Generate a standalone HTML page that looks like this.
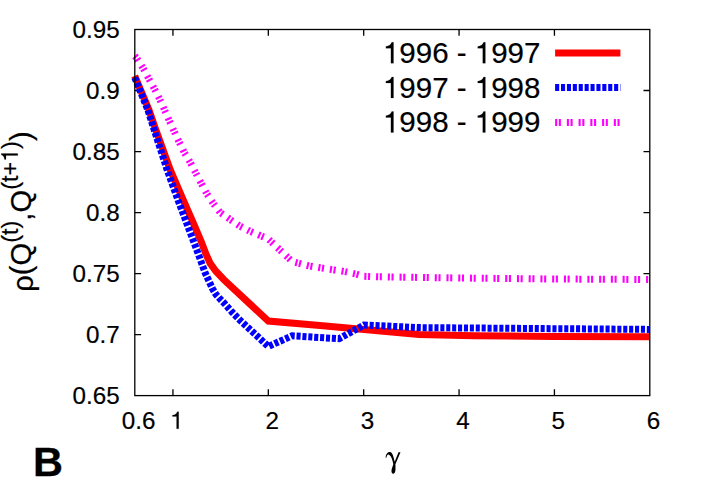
<!DOCTYPE html>
<html><head><meta charset="utf-8"><title>B</title>
<style>
html,body{margin:0;padding:0;background:#fff;}
body{width:706px;height:494px;overflow:hidden;font-family:"Liberation Sans",sans-serif;}
svg{display:block;}
text{font-family:"Liberation Sans",sans-serif;fill:#000;font-kerning:none;white-space:pre;}
.t text{stroke:#000;stroke-width:0.2px;}
.t path{fill:#000;stroke:#000;stroke-width:6;}
</style></head><body>
<svg width="706" height="494" viewBox="0 0 706 494">
<rect width="706" height="494" fill="#fff"/>
<g fill="none" stroke="#000" stroke-width="1.3">
<path d="M172.95 395.60V389.30M172.95 29.50V35.80"/>
<path d="M268.32 395.60V389.30M268.32 29.50V35.80"/>
<path d="M363.69 395.60V389.30M363.69 29.50V35.80"/>
<path d="M459.06 395.60V389.30M459.06 29.50V35.80"/>
<path d="M554.43 395.60V389.30M554.43 29.50V35.80"/>
<path d="M134.80 334.58H141.10M649.80 334.58H643.50"/>
<path d="M134.80 273.57H141.10M649.80 273.57H643.50"/>
<path d="M134.80 212.55H141.10M649.80 212.55H643.50"/>
<path d="M134.80 151.53H141.10M649.80 151.53H643.50"/>
<path d="M134.80 90.52H141.10M649.80 90.52H643.50"/>
</g>
<g class="t">
<text x="72.60" y="37.90" font-size="24.20">0.95</text>
<text x="86.06" y="98.92" font-size="24.20">0.9</text>
<text x="72.60" y="159.93" font-size="24.20">0.85</text>
<text x="86.06" y="220.95" font-size="24.20">0.8</text>
<text x="72.60" y="281.97" font-size="24.20">0.75</text>
<text x="86.06" y="342.98" font-size="24.20">0.7</text>
<text x="72.60" y="404.00" font-size="24.20">0.65</text>
<text x="121.78" y="428.80" font-size="24.20">0.6</text>
<path d="M359 0H271V505H101V568C190 570 270 620 300 709H359Z" transform="translate(170.02 428.80) scale(0.0242 -0.0242)"/>
<text x="265.39" y="428.80" font-size="24.20">2</text>
<text x="360.76" y="428.80" font-size="24.20">3</text>
<text x="456.13" y="428.80" font-size="24.20">4</text>
<text x="551.50" y="428.80" font-size="24.20">5</text>
<text x="646.87" y="428.80" font-size="24.20">6</text>
<path d="M359 0H271V505H101V568C190 570 270 620 300 709H359Z" transform="translate(382.92 63.20) scale(0.0295 -0.0295)"/>
<text x="399.33" y="63.20" font-size="29.50">996 - </text>
<path d="M359 0H271V505H101V568C190 570 270 620 300 709H359Z" transform="translate(474.77 63.20) scale(0.0295 -0.0295)"/>
<text x="491.18" y="63.20" font-size="29.50">997</text>
<path d="M359 0H271V505H101V568C190 570 270 620 300 709H359Z" transform="translate(382.92 97.90) scale(0.0295 -0.0295)"/>
<text x="399.33" y="97.90" font-size="29.50">997 - </text>
<path d="M359 0H271V505H101V568C190 570 270 620 300 709H359Z" transform="translate(474.77 97.90) scale(0.0295 -0.0295)"/>
<text x="491.18" y="97.90" font-size="29.50">998</text>
<path d="M359 0H271V505H101V568C190 570 270 620 300 709H359Z" transform="translate(382.92 132.40) scale(0.0295 -0.0295)"/>
<text x="399.33" y="132.40" font-size="29.50">998 - </text>
<path d="M359 0H271V505H101V568C190 570 270 620 300 709H359Z" transform="translate(474.77 132.40) scale(0.0295 -0.0295)"/>
<text x="491.18" y="132.40" font-size="29.50">999</text>
<g transform="translate(31.2 291.8) rotate(-90)">
<text x="0.00" y="1.60" font-size="29.20">ρ</text>
<text x="16.61" y="0.00" font-size="29.20">(Q</text>
<text x="49.04" y="-13.40" font-size="23.40">(t)</text>
<text x="71.13" y="0.00" font-size="29.20">,Q</text>
<text x="101.95" y="-13.40" font-size="23.40">(t+</text>
<path d="M359 0H271V505H101V568C190 570 270 620 300 709H359Z" transform="translate(129.91 -13.40) scale(0.0234 -0.0234)"/>
<text x="142.93" y="-13.40" font-size="23.40">)</text>
<text x="150.72" y="0.00" font-size="29.20">)</text>
</g>
</g>
<g fill="none" stroke-width="7" stroke-linejoin="miter">
<path d="M555.1 52.9H620.4" stroke="#f00"/>
<polyline points="134.70,75.80 149.00,110.00 155.30,128.30 170.30,170.00 183.20,200.00 193.80,224.10 201.60,242.50 206.00,254.20 210.20,263.40 215.90,271.20 223.70,279.50 268.30,321.10 320.00,325.50 419.00,334.50 474.00,335.70 554.00,336.40 649.80,336.80" stroke="#f00"/>
<path d="M555.1 87.5H620.4" stroke="#00f" stroke-dasharray="4.1 1.8"/>
<polyline points="134.70,77.50 147.90,110.00 153.70,128.30 167.20,170.00 178.00,200.00 196.80,250.00 205.30,273.20 210.20,283.80 212.70,289.10 215.90,294.40 219.80,298.70 224.00,303.00 232.00,312.00 240.00,320.20 268.30,346.50 292.10,335.80 339.10,338.70 363.90,325.00 419.00,327.60 649.80,329.40" stroke="#00f" stroke-dasharray="4.1 1.8"/>
<path d="M555.1 122.5H620.4" stroke="#f0f" stroke-dasharray="2.1 1.6 2.1 5.94"/>
<polyline points="134.80,56.00 136.40,57.70 142.70,67.60 148.40,78.00 154.10,88.20 159.50,98.80 164.20,109.20 169.10,120.30 174.10,131.20 179.00,141.80 184.20,152.40 190.30,162.40 195.60,172.70 201.00,182.90 206.70,193.60 213.00,203.10 220.00,212.40 229.50,219.00 239.50,225.90 249.70,231.10 260.70,235.80 268.30,239.00 292.20,261.50 298.00,263.00 309.30,265.90 320.80,267.90 332.40,269.70 344.20,271.50 355.80,274.00 363.70,276.30 378.40,276.80 459.00,278.00 554.00,279.00 649.80,279.50" stroke="#f0f" stroke-dasharray="2.1 1.6 2.1 5.94"/>
</g>
<rect x="134.80" y="29.50" width="515.00" height="366.10" fill="none" stroke="#000" stroke-width="1.3"/>
<path fill="#000" d="M385.6 457.7C385.8 454.6 387.3 452 389.7 452C391.7 452 392.7 454.1 393.5 457.1L394.7 461.8L398.5 452.2L400.5 452.2L395.4 464.2C395.5 466 395.6 468.5 395.4 470.5C395.2 472.5 394.4 473.7 393.2 473.7C392 473.7 391.3 472.3 391.5 470.3C391.8 468 393 466 393.3 464C392.6 460.5 391.5 456.1 389 454.7C387.6 454 386.7 455.6 386.4 457.7Z"/>
<text x="33.1" y="475.6" font-size="41.5" font-weight="bold" stroke="#000" stroke-width="0.3">B</text>
</svg>
</body></html>
